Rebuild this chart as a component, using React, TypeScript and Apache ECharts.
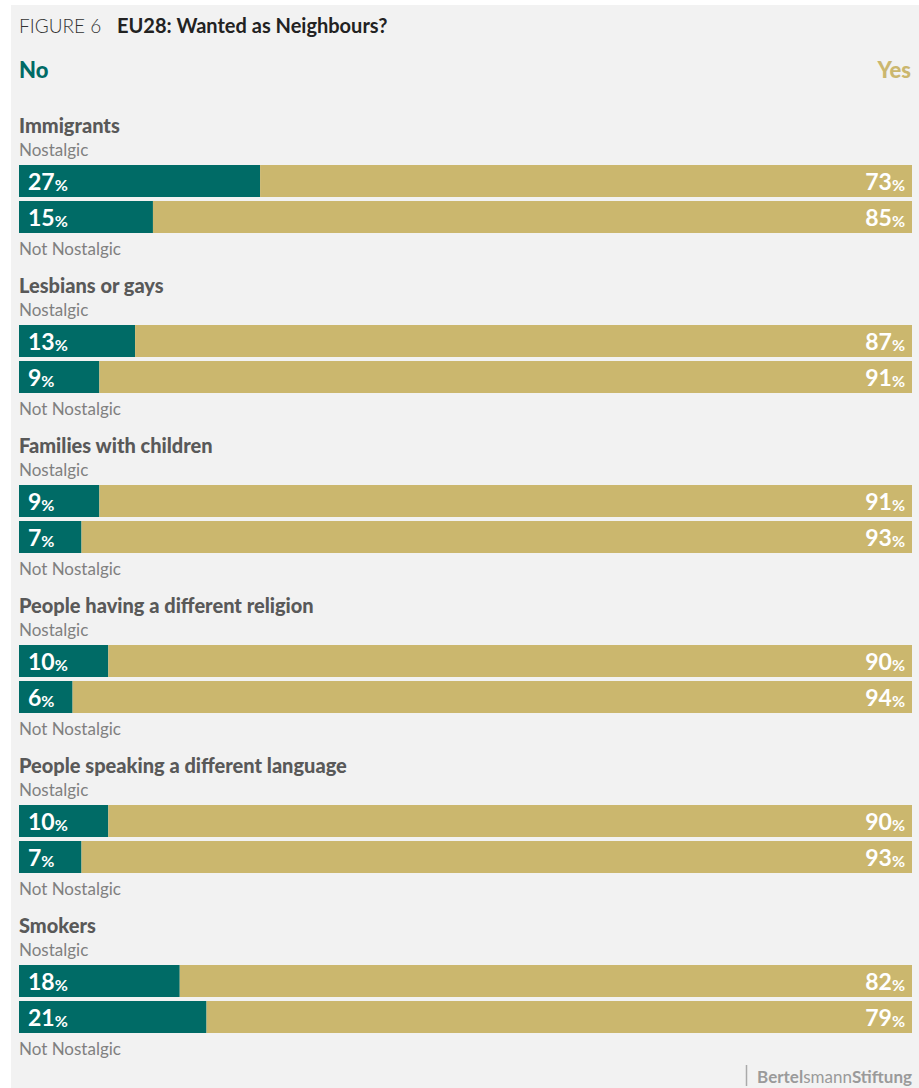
import React, { useEffect, useRef } from "react";
import * as echarts from "echarts";

const categories = [
  "Immigrants",
  "Lesbians or gays",
  "Families with children",
  "People having a different religion",
  "People speaking a different language",
  "Smokers",
];
const rowLabels = ["Nostalgic", "Not Nostalgic"];
const noNostalgic = [27, 13, 9, 10, 10, 18];
const noNotNostalgic = [15, 9, 7, 6, 7, 21];
const yesNostalgic = [73, 87, 91, 90, 90, 82];
const yesNotNostalgic = [85, 91, 93, 94, 93, 79];

const TEAL = "#006b66";
const GOLD = "#cbb76e";
const FONT = "Lato, 'Open Sans', sans-serif";

export default function App() {
  const ref = useRef<HTMLDivElement>(null);
  useEffect(() => {
    if (!ref.current) return;
    const chart = echarts.init(ref.current, null, { renderer: "svg" });
    const W = 919;
    const left = 19;
    const right = 7;
    const step = 160;
    const grids: any[] = [];
    const xAxes: any[] = [];
    const yAxes: any[] = [];
    const series: any[] = [];
    const graphics: any[] = [
      { type: "rect", left: 11, top: 5, shape: { x: 0, y: 0, width: W - 11, height: 1088 - 5 }, style: { fill: "#f2f2f2" }, silent: true, z: -10 },
      {
        type: "text", x: 19, y: 25,
        style: { text: "FIGURE 6", fill: "#333", font: `300 19px ${FONT}`, textVerticalAlign: "middle" },
      },
      {
        type: "text", x: 117, y: 25,
        style: { text: "EU28: Wanted as Neighbours?", fill: "#222", font: `bold 20px ${FONT}`, textVerticalAlign: "middle" },
      },
      {
        type: "text", x: 19, y: 69,
        style: { text: "No", fill: TEAL, font: `900 22px ${FONT}`, textVerticalAlign: "middle" },
      },
      {
        type: "text", x: 911, y: 69,
        style: { text: "Yes", fill: GOLD, font: `900 22px ${FONT}`, textAlign: "right", textVerticalAlign: "middle" },
      },
      { type: "line", shape: { x1: 746.5, y1: 1065, x2: 746.5, y2: 1086 }, style: { stroke: "#aaa", lineWidth: 1.5 } },
      {
        type: "text", x: 912, y: 1076,
        style: {
          text: "{a|Bertel}{b|smann}{a|Stiftung}",
          textAlign: "right", textVerticalAlign: "middle",
          rich: {
            a: { font: `bold 17px ${FONT}`, fill: "#9a9a9a" },
            b: { font: `normal 17px ${FONT}`, fill: "#9a9a9a" },
          },
        },
      },
    ];

    categories.forEach((cat, i) => {
      const base = i * step;
      grids.push({ left, right, top: 163 + base, height: 72, containLabel: false });
      xAxes.push({ type: "value", gridIndex: i, min: 0, max: 100, show: false });
      yAxes.push({ type: "category", gridIndex: i, data: rowLabels, inverse: true, show: false });
      const labelRich = {
        a: { fontSize: 23, fontWeight: "bold", color: "#fff", fontFamily: FONT },
        b: { fontSize: 16, fontWeight: "bold", color: "#fff", fontFamily: FONT, padding: [6, 0, 0, 0] },
      };
      series.push({
        type: "bar", name: "No", stack: "s" + i, xAxisIndex: i, yAxisIndex: i,
        barWidth: 32, itemStyle: { color: TEAL },
        data: [noNostalgic[i], noNotNostalgic[i]],
        label: { show: true, position: "insideLeft", distance: 9, formatter: "{a|{c}}{b|%}", rich: labelRich },
      });
      series.push({
        type: "bar", name: "Yes", stack: "s" + i, xAxisIndex: i, yAxisIndex: i,
        barWidth: 32, itemStyle: { color: GOLD },
        data: [yesNostalgic[i], yesNotNostalgic[i]],
        label: { show: true, position: "insideRight", distance: 7, formatter: "{a|{c}}{b|%}", rich: labelRich },
      });
      graphics.push({
        type: "text", x: 19, y: 125 + base,
        style: { text: cat, fill: "#595959", font: `900 20px ${FONT}`, textVerticalAlign: "middle" },
      });
      graphics.push({
        type: "text", x: 19, y: 149 + base,
        style: { text: rowLabels[0], fill: "#808080", font: `normal 17px ${FONT}`, textVerticalAlign: "middle" },
      });
      graphics.push({
        type: "text", x: 19, y: 248 + base,
        style: { text: rowLabels[1], fill: "#808080", font: `normal 17px ${FONT}`, textVerticalAlign: "middle" },
      });
    });

    chart.setOption({
      animation: false,
      backgroundColor: "#ffffff",
      grid: grids,
      xAxis: xAxes,
      yAxis: yAxes,
      series,
      graphic: graphics,
    });
    return () => chart.dispose();
  }, []);
  return (
    <div
      ref={ref}
      style={{ position: "absolute", left: 0, top: 0, width: 919, height: 1088 }}
    />
  );
}
